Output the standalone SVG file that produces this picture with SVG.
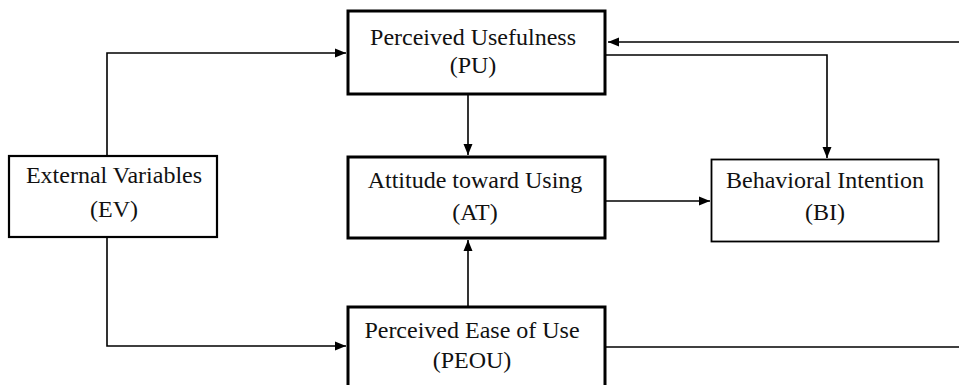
<svg xmlns="http://www.w3.org/2000/svg" width="959" height="385" viewBox="0 0 959 385">
<style>
.box{fill:#fff;stroke:#000}
.t{font-family:"Liberation Serif","Times New Roman",serif;font-size:24px;fill:#111;text-anchor:middle}
.c{fill:none;stroke:#000;stroke-width:1.6}
</style>
<defs>
<marker id="ah" viewBox="0 0 11 10" refX="11" refY="5" markerWidth="11" markerHeight="10" markerUnits="userSpaceOnUse" orient="auto">
<path d="M0,0.5 L11,5 L0,9.5 Z" fill="#000"/>
</marker>
</defs>
<rect width="959" height="385" fill="#fff"/>
<g id="connectors">
<path class="c" d="M107,156 V53 H346" marker-end="url(#ah)"/>
<path class="c" d="M107,237 V346 H346" marker-end="url(#ah)"/>
<path class="c" d="M468,95 V155" marker-end="url(#ah)"/>
<path class="c" d="M468,307 V240" marker-end="url(#ah)"/>
<path class="c" d="M959,42 H608" marker-end="url(#ah)"/>
<path class="c" d="M606,55 H827 V158" marker-end="url(#ah)"/>
<path class="c" d="M606,201 H710" marker-end="url(#ah)"/>
<path class="c" d="M606,347 H959"/>
</g>
<g id="PU">
<rect class="box" x="348" y="11" width="257" height="83" stroke-width="3"/>
<text class="t" x="473" y="45">Perceived Usefulness</text>
<text class="t" x="473" y="73">(PU)</text>
</g>
<g id="AT">
<rect class="box" x="348" y="157" width="257" height="81" stroke-width="3"/>
<text class="t" x="475" y="188">Attitude toward Using</text>
<text class="t" x="475" y="220">(AT)</text>
</g>
<g id="EV">
<rect class="box" x="9" y="156" width="208" height="81" stroke-width="2.2"/>
<text class="t" x="114" y="183">External Variables</text>
<text class="t" x="114" y="217">(EV)</text>
</g>
<g id="BI">
<rect class="box" x="711.5" y="159.5" width="227" height="82" stroke-width="1.8"/>
<text class="t" x="825" y="188">Behavioral Intention</text>
<text class="t" x="825" y="220">(BI)</text>
</g>
<g id="PEOU">
<rect class="box" x="348" y="307" width="257" height="90" stroke-width="3"/>
<text class="t" x="472" y="338">Perceived Ease of Use</text>
<text class="t" x="472" y="368">(PEOU)</text>
</g>
</svg>
